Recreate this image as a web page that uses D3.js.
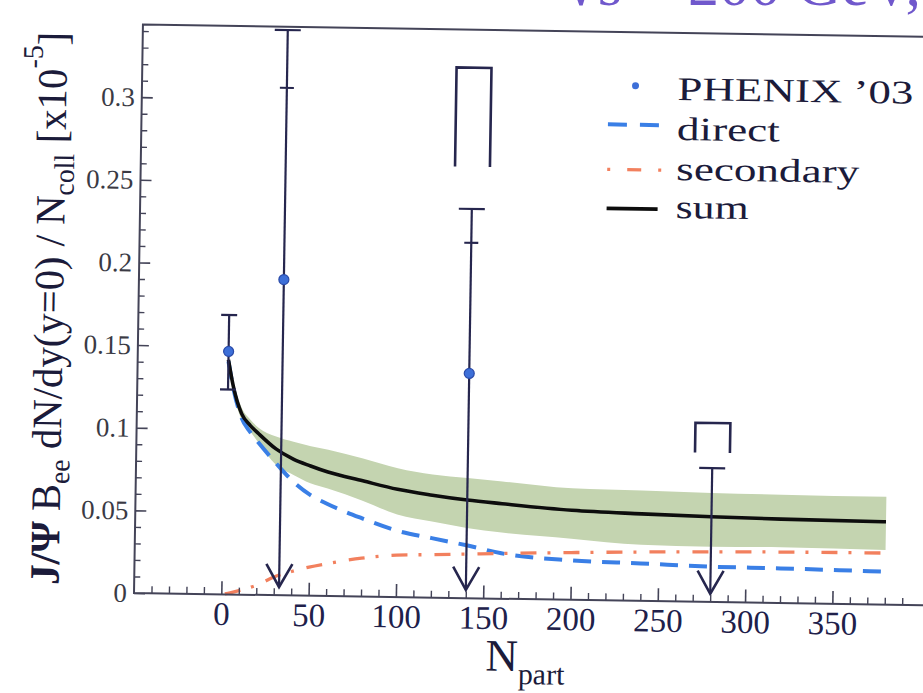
<!DOCTYPE html>
<html><head><meta charset="utf-8">
<script src="https://cdn.jsdelivr.net/npm/d3@7"></script>
<style>body{margin:0;background:#fff}svg{display:block}</style>
</head><body>
<script>
// ---- data ----
const npartGrid     = [2, 5, 10, 15, 20, 30, 40, 50, 60, 80, 100, 120, 140, 160, 200, 240, 280, 320, 380];
const directVals    = [0.141, 0.125, 0.107, 0.0985, 0.092, 0.080, 0.069, 0.061, 0.0557, 0.0473, 0.0402, 0.036, 0.032, 0.0275, 0.0239, 0.0227, 0.0214, 0.021, 0.020];
const secondaryVals = [0.0003, 0.001, 0.0024, 0.004, 0.0058, 0.011, 0.0145, 0.0173, 0.0195, 0.0232, 0.0254, 0.026, 0.0267, 0.0274, 0.0286, 0.0296, 0.0304, 0.0309, 0.0313];
const sumVals       = [0.142, 0.126, 0.1095, 0.1025, 0.0975, 0.0885, 0.0825, 0.0785, 0.075, 0.070, 0.0652, 0.062, 0.0594, 0.0575, 0.0542, 0.0527, 0.0516, 0.0508, 0.0502];
const bandUpper     = [0.144, 0.129, 0.113, 0.106, 0.101, 0.096, 0.093, 0.0905, 0.0885, 0.0835, 0.078, 0.0745, 0.0727, 0.071, 0.0675, 0.0668, 0.066, 0.0656, 0.0653];
const bandLower     = [0.140, 0.123, 0.106, 0.099, 0.092, 0.079, 0.073, 0.068, 0.065, 0.058, 0.050, 0.046, 0.0425, 0.040, 0.037, 0.034, 0.0335, 0.0338, 0.0331];

const phenixNpart    = [2, 33, 140, 280];
const phenixVal      = [0.147, 0.191, 0.136, null];
const phenixErrHigh  = [0.169, 0.342, 0.2355, 0.081];
const phenixStatHigh = [null, 0.307, 0.215, null];
const phenixErrLow   = [0.124, null, null, null];   // null: limit, arrow down to zero
const phenixSysLow   = [null, null, 0.261, 0.0903];
const phenixSysHigh  = [null, null, 0.321, 0.1083];
const arrowTipVal = 0.005;
const sysHalfWidth = 10;

const xTicks = [0, 50, 100, 150, 200, 250, 300, 350];
const yTicks = [0, 0.05, 0.1, 0.15, 0.2, 0.25, 0.3];
const yTickLabels = ["0", "0.05", "0.1", "0.15", "0.2", "0.25", "0.3"];
const legendLabels = ["PHENIX \u201903", "direct", "secondary", "sum"];

// ---- drawing ----
const W = 923, H = 693;
const serif = "'Liberation Serif', 'DejaVu Serif', serif";
const ink = "#26264e";
const svg = d3.select("body").append("svg").attr("width", W).attr("height", H);

// cut-off title fragment at the very top (as in the reference)
svg.append("text").attr("x", 921).attr("y", 5).attr("text-anchor", "end")
  .attr("font-family", serif).attr("font-size", 62).attr("fill", "#7058cc")
  .text("\u221As = 200 GeV,");

const g = svg.append("g").attr("transform", "rotate(0.9,520,310)");

const x = d3.scaleLinear().domain([-50, 400]).range([138.5, 924.2]);
const y = d3.scaleLinear().domain([0, 0.344]).range([599, 30.4]);

const idx = d3.range(npartGrid.length);

// uncertainty band of the sum
g.append("path")
  .attr("d", d3.area().x(i => x(npartGrid[i])).y0(i => y(bandLower[i])).y1(i => y(bandUpper[i])).curve(d3.curveMonotoneX)(idx))
  .attr("fill", "#c4d4b0").attr("stroke", "none");

const lineOf = vals => d3.line().x(i => x(npartGrid[i])).y(i => y(vals[i])).curve(d3.curveMonotoneX)(idx);

g.append("path").attr("d", lineOf(directVals)).attr("fill", "none")
  .attr("stroke", "#3a7fe6").attr("stroke-width", 4).attr("stroke-dasharray", "18,11");
g.append("path").attr("d", lineOf(secondaryVals)).attr("fill", "none")
  .attr("stroke", "#f2805e").attr("stroke-width", 3.3).attr("stroke-dasharray", "16,11,3,13");
g.append("path").attr("d", lineOf(sumVals)).attr("fill", "none")
  .attr("stroke", "#0d0d0d").attr("stroke-width", 3.6);

// PHENIX data: error bars, limits, systematic brackets, points
const eb = g.append("g").attr("stroke", ink).attr("stroke-width", 2.2).attr("fill", "none");
phenixNpart.forEach((n, i) => {
  const cx = x(n);
  const low = phenixErrLow[i] === null ? arrowTipVal : phenixErrLow[i];
  eb.append("line").attr("x1", cx).attr("x2", cx).attr("y1", y(phenixErrHigh[i])).attr("y2", y(low));
  const capW = phenixErrLow[i] === null ? 13 : 8;
  eb.append("line").attr("x1", cx - capW).attr("x2", cx + capW).attr("y1", y(phenixErrHigh[i])).attr("y2", y(phenixErrHigh[i]));
  if (phenixStatHigh[i] !== null) {
    eb.append("line").attr("x1", cx - 7).attr("x2", cx + 7).attr("y1", y(phenixStatHigh[i])).attr("y2", y(phenixStatHigh[i]));
  }
  if (phenixErrLow[i] !== null) {
    eb.append("line").attr("x1", cx - 8).attr("x2", cx + 8).attr("y1", y(low)).attr("y2", y(low));
  } else {
    const ty = y(arrowTipVal);
    eb.append("path").attr("d", `M${cx - 13},${ty - 23}L${cx},${ty}L${cx + 13},${ty - 23}`).attr("stroke-width", 2.6);
  }
  if (phenixSysLow[i] !== null) {
    eb.append("path")
      .attr("d", `M${x(n - sysHalfWidth)},${y(phenixSysLow[i])}V${y(phenixSysHigh[i])}H${x(n + sysHalfWidth)}V${y(phenixSysLow[i])}`)
      .attr("stroke-width", 2.6);
  }
  if (phenixVal[i] !== null) {
    g.append("circle").attr("cx", cx).attr("cy", y(phenixVal[i])).attr("r", 5)
      .attr("fill", "#3d6fd8").attr("stroke", "#2a4aa8").attr("stroke-width", 1.2);
  }
});

// frame (right edge lies outside the picture, as in the reference)
g.append("path")
  .attr("d", `M${x(415)},${y(0.344)}H${x(-50)}V${y(0)}H${x(415)}`)
  .attr("fill", "none").attr("stroke", "#444458").attr("stroke-width", 2);

// x axis
const xAxis = g.append("g").attr("transform", `translate(0,${y(0)})`)
  .call(d3.axisBottom(x).tickValues(xTicks).tickSizeInner(-13).tickSizeOuter(0).tickPadding(7).tickFormat(d3.format("d")));
xAxis.select(".domain").remove();
xAxis.selectAll(".tick line").attr("stroke", "#444458").attr("stroke-width", 1.6);
xAxis.selectAll("text").attr("font-family", serif).attr("font-size", 33).attr("fill", "#20204a");
const xMinor = g.append("g").attr("transform", `translate(0,${y(0)})`)
  .call(d3.axisBottom(x).tickValues(d3.range(-40, 400, 10).filter(v => v % 50 !== 0)).tickSizeInner(-7).tickSizeOuter(0).tickFormat(""));
xMinor.select(".domain").remove();
xMinor.selectAll(".tick line").attr("stroke", "#444458").attr("stroke-width", 1.4);

// y axis
const yAxis = g.append("g").attr("transform", `translate(${x(-50)},0)`)
  .call(d3.axisLeft(y).tickValues(yTicks).tickSizeInner(-11).tickSizeOuter(0).tickPadding(7).tickFormat((d, i) => yTickLabels[i]));
yAxis.select(".domain").remove();
yAxis.selectAll(".tick line").attr("stroke", "#444458").attr("stroke-width", 1.6);
yAxis.selectAll("text").attr("font-family", serif).attr("font-size", 27).attr("fill", "#3a3a44");
const yMinor = g.append("g").attr("transform", `translate(${x(-50)},0)`)
  .call(d3.axisLeft(y).tickValues(d3.range(1, 35).map(k => k / 100).filter(v => Math.round(v * 100) % 5 !== 0)).tickSizeInner(-6).tickSizeOuter(0).tickFormat(""));
yMinor.select(".domain").remove();
yMinor.selectAll(".tick line").attr("stroke", "#444458").attr("stroke-width", 1.4);

// x title
const xt = g.append("text").attr("x", 491).attr("y", 671).attr("font-family", serif).attr("font-size", 45).attr("fill", "#1b1b3a");
xt.append("tspan").text("N");
xt.append("tspan").attr("font-size", 30).attr("dy", 13).text("part");

// y title
const yt = g.append("text").attr("font-family", serif).attr("font-size", 38).attr("fill", "#1b1b3a");
yt.append("tspan").attr("font-weight", "bold").text("J/\u03A8");
yt.append("tspan").text(" B");
yt.append("tspan").attr("font-size", 26).attr("dy", 8).text("ee");
yt.append("tspan").attr("dy", -8).text(" dN/dy(y=0) / N");
yt.append("tspan").attr("font-size", 26).attr("dy", 8).text("coll");
yt.append("tspan").attr("dy", -8).text(" [x10");
yt.append("tspan").attr("font-size", 26).attr("dy", -22).text("-5");
yt.append("tspan").attr("dy", 22).text("]");
const bb = yt.node().getBBox();
yt.attr("transform", `translate(63,315.7) rotate(-90) scale(${553 / bb.width},1.1) translate(${-bb.x - bb.width / 2},0)`);

// legend
const lg = g.append("g");
const legY = [97.5, 137.5, 177.5, 215.5];
const legLen = [236, 103, 183, 73];
legendLabels.forEach((t, i) => {
  lg.append("text").attr("x", 674).attr("y", legY[i]).attr("font-family", serif).attr("font-size", 33)
    .attr("fill", "#1b1b3a").attr("textLength", legLen[i]).attr("lengthAdjust", "spacingAndGlyphs").text(t);
});
lg.append("circle").attr("cx", 632).attr("cy", 84).attr("r", 3.5).attr("fill", "#3d6fd8");
lg.append("line").attr("x1", 605).attr("x2", 657).attr("y1", 123).attr("y2", 123)
  .attr("stroke", "#3a7fe6").attr("stroke-width", 4).attr("stroke-dasharray", "19,13");
lg.append("line").attr("x1", 605).attr("x2", 659).attr("y1", 168).attr("y2", 168)
  .attr("stroke", "#f2805e").attr("stroke-width", 3.3).attr("stroke-dasharray", "3,17,14,17,3");
lg.append("line").attr("x1", 605).attr("x2", 656).attr("y1", 207).attr("y2", 207)
  .attr("stroke", "#0d0d0d").attr("stroke-width", 3.6);
</script>
</body></html>
